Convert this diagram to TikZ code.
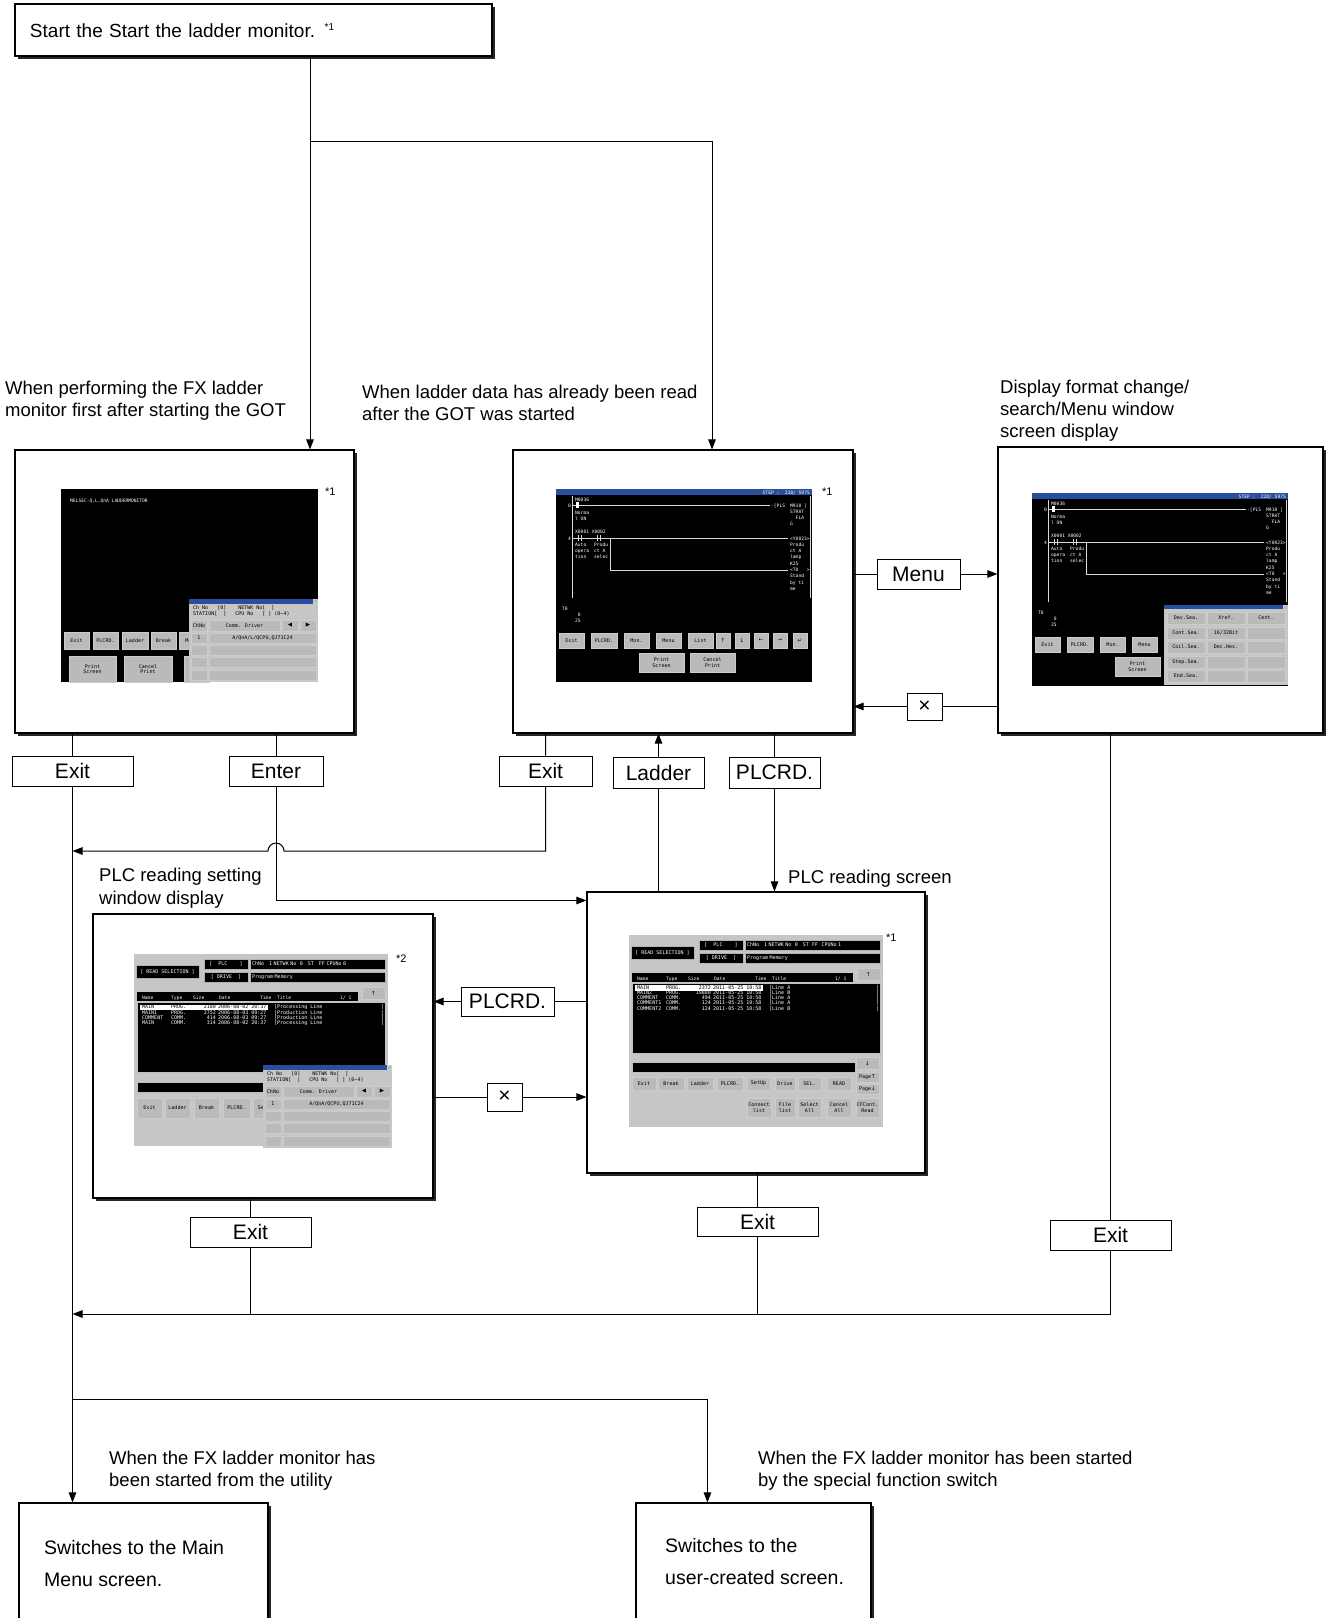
\documentclass[tikz,border=0pt]{standalone}
\usepackage{fontspec}
\setmainfont{Liberation Sans}
\newfontfamily\scrfont{DejaVu Sans Mono}
\newfontfamily\dvsfont{DejaVu Sans}
\usetikzlibrary{arrows.meta, positioning, shadows}

\definecolor{barblue}{RGB}{42,78,158}
\definecolor{panelgray}{RGB}{198,198,198}
\definecolor{keygray}{RGB}{186,186,186}

\newcommand\keyglyph[1]{{\dvsfont\fontsize{5.5}{5.5}\selectfont #1}}

% one key of a GOT screen, given by its corners
\newcommand\keybtn[6]{%
  \node[btn, minimum width={(#4)-(#2)}, minimum height={(#5)-(#3)}]
    (#1) at ({((#2)+(#4))/2},{((#3)+(#5))/2}) {#6};}

% ladder monitor screen, local coordinates (multi-line texts sit on their last line)
\newcommand\ladderscreen[1]{%
  \fill[black] (0,0) rectangle (256,193);
  \fill[barblue] (0,0) rectangle (256,6);
  \node[stxt, anchor=base east] (#1-step) at (254,5) {STEP :\ \ 228/ 5975};
  \draw[rung] (16,7) -- (16,109) (254,7) -- (254,109)
    (16,16) -- (214,16) (16,49) -- (232,49) (54,49) |- (232,81);
  \fill[white] (20,13) rectangle (23,19);
  \draw[rung] (22,46) -- (22,52) (25,46) -- (25,52) (41,46) -- (41,52) (44,46) -- (44,52);
  \node[stxt] (#1-m36) at (19,12) {M0036};
  \node[stxt, anchor=base east] (#1-r0) at (15,18) {0};
  \node[stxt] (#1-norm) at (19,31.3) {Norma\\l ON};
  \node[stxt] (#1-pls) at (215,18) {-[PLS};
  \node[stxt] (#1-m910) at (234,36.9) {M910 ]\\STRAT\\\ \ FLA\\G};
  \node[stxt] (#1-x12) at (19,44) {X0001 X0002};
  \node[stxt, anchor=base east] (#1-r4) at (15,51) {4};
  \node[stxt] (#1-auto) at (19,69.6) {Auto\\opera\\tion};
  \node[stxt] (#1-prod) at (38,69.6) {Produ\\ct A\\selec};
  \node[stxt] (#1-coil) at (234,101.4) {<Y0023>\\Produ\\ct A\\lamp\\K25\\<T0\ \ \ >\\Stand\\by ti\\me};
  \node[stxt] (#1-t0) at (6,121) {T0};
  \node[stxt] (#1-t0v) at (19,133.3) {\ 0\\25};
  \foreach \xa/\xb/\lab [count=\i] in {3/28/Exit, 35/61/PLCRD., 68/93/Mon., 100/125/Menu,
      132/157/List, 160/174/{\keyglyph{↑}}, 179/193/{\keyglyph{↓}}, 198/212/{\keyglyph{←}},
      217/231/{\keyglyph{→}}, 237/251/{\keyglyph{↵}}} {
    \keybtn{#1-k\i}{\xa}{144}{\xb}{159}{\lab}
  }
  \keybtn{#1-prt}{83}{164}{128}{183}{Print\\Screen}
  \keybtn{#1-cnl}{134}{164}{179}{183}{Cancel\\Print}
}

% channel setting window, local coordinates
\newcommand\chdialog[2]{%
  \fill[panelgray] (0,0) rectangle (129,83);
  \fill[barblue] (0,0) rectangle (129,5);
  \keybtn{#1-x}{124}{0.5}{128.5}{4.5}{}
  \node[dtxt] (#1-ch) at (4,10.5) {Ch No\ \ \ [0]\ \ \ \ NETWK No[\ \ ]};
  \node[dtxt] (#1-st) at (4,16) {STATION[\ \ ]\ \ \ CPU No\ \ \ [\ ] (0\textasciitilde 4)};
  \keybtn{#1-h1}{2}{21}{18}{32}{ChNo}
  \keybtn{#1-h2}{20}{21}{91}{32}{Comm. Driver}
  \keybtn{#1-h3}{93}{21}{109}{32}{\keyglyph{◀}}
  \keybtn{#1-h4}{111}{21}{127}{32}{\keyglyph{▶}}
  \keybtn{#1-r1}{2}{34}{18}{44}{1}
  \keybtn{#1-d1}{20}{34}{127}{44}{#2}
  \foreach \ya [count=\i] in {46,58,71} {
    \keybtn{#1-e\i}{2}{\ya}{18}{\ya+10}{}
    \keybtn{#1-f\i}{20}{\ya}{127}{\ya+10}{}
  }
}

% upper part of the read selection screen, local coordinates
\newcommand\readsel[2]{%
  \fill[panelgray] (0,0) rectangle (254,192);
  \node[dark, minimum width=63pt, minimum height=13pt] (#1-rs) at (33.5,17.5) {[ READ SELECTION ]};
  \node[dark, minimum width=44pt, minimum height=10pt] (#1-plc) at (92,10) {[\ \ PLC\ \ \ \ ]};
  \node[dark, minimum width=44pt, minimum height=10pt] (#1-drv) at (92,23) {[\ DRIVE\ \ ]};
  \node[dark, minimum width=135pt, minimum height=10pt, text width=131pt, align=left] (#1-ch) at (183.5,10) {#2};
  \node[dark, minimum width=135pt, minimum height=10pt, text width=131pt, align=left] (#1-mem) at (183.5,23) {Program Memory};
  \fill[black] (3,38) rectangle (224,47);
  \foreach \xa/\lab [count=\i] in {8/Name, 37/Type, 59/Size, 85/Date, 126/Time, 143/Title, 206/{1/ 1}} {
    \node[stxt] (#1-hd\i) at (\xa,45) {\lab};
  }
  \keybtn{#1-up}{228}{33}{251}{45}{\keyglyph{↑}}
  \draw[fill=black, draw=white!75!black, line width=0.4pt] (3,48) rectangle (251,118);
}

\begin{document}
\begin{tikzpicture}[
    x=1pt, y=-1pt,
    box/.style={draw, line width=1.1pt, fill=white, inner sep=0pt,
      drop shadow={shadow xshift=2.6pt, shadow yshift=-2.6pt, fill=black!85, opacity=1}},
    keybox/.style={draw, line width=0.8pt, fill=white, inner sep=0pt, minimum height=30pt,
      font=\fontsize{21}{24}\selectfont},
    desc/.style={anchor=base west, align=left, inner sep=0pt, font=\fontsize{18.5}{22}\selectfont},
    note/.style={anchor=north west, inner sep=0pt, font=\fontsize{11}{11}\selectfont},
    flow/.style={line width=1pt, -{Triangle[length=10pt, width=7.5pt]}},
    link/.style={line width=1pt},
    rung/.style={draw=white!85!black, line width=0.35pt},
    stxt/.style={text=white, inner sep=0pt, anchor=base west, align=left,
      font=\scrfont\fontsize{4.6}{6.3}\selectfont},
    rowtxt/.style={stxt, font=\scrfont\fontsize{5}{5}\selectfont},
    dtxt/.style={stxt, text=black, font=\scrfont\fontsize{5}{5}\selectfont},
    btn/.style={fill=keygray, draw=white!80!black, line width=0.3pt, inner sep=0pt, align=center,
      font=\scrfont\fontsize{5}{5.4}\selectfont},
    dark/.style={btn, fill=black, draw=white!70!black, text=white},
  ]
  \useasboundingbox (0,0) rectangle (1329,1618);

  % main boxes
  \node[box, minimum width=477pt, minimum height=52pt, text width=447pt, align=left,
    text height=15.6pt, text depth=0pt, font=\fontsize{19}{22}\selectfont] (start) at (253.5,30)
    {Start the Start the ladder monitor. \raisebox{7pt}{\fontsize{10}{10}\selectfont *1}};
  \node[box, minimum width=339pt, minimum height=283pt] (firstmon) at (184.5,591.5) {};
  \node[box, minimum width=340pt, minimum height=283pt] (readmon) at (683,591.5) {};
  \node[box, minimum width=325pt, minimum height=286pt] (menuwin) at (1160.5,590) {};
  \node[box, minimum width=340pt, minimum height=284pt] (plcset) at (263,1056) {};
  \node[box, minimum width=338pt, minimum height=281pt] (plcread) at (756,1032.5) {};
  \node[box, minimum width=249pt, minimum height=160pt] (mainmenu) at (143.5,1583) {};
  \node[box, minimum width=235pt, minimum height=160pt] (userscr) at (753.5,1583) {};

  % screen of the first start
  \begin{scope}[shift={(61,489)}]
    \fill[black] (0,0) rectangle (257,193);
    \node[stxt] (fm-title) at (9,13) {MELSEC-Q,L,QnA LADDERMONITOR};
    \foreach \xa/\xb/\lab [count=\i] in {3/28/Exit, 32/57/PLCRD., 61/87/Ladder, 90/115/Break, 118/143/Mon.} {
      \keybtn{fm-k\i}{\xa}{143}{\xb}{160}{\lab}
    }
    \keybtn{fm-prt}{8}{167}{55}{193}{Print\\Screen}
    \keybtn{fm-cnl}{63}{167}{111}{193}{Cancel\\Print}
    \keybtn{fm-etc}{123}{167}{148}{193}{...}
  \end{scope}
  \begin{scope}[shift={(189,599)}]
    \chdialog{fm}{A/QnA/L/QCPU,QJ71C24}
  \end{scope}
  \node[note] (fm-note) at (325,488) {*1};

  % ladder screens
  \begin{scope}[shift={(556,489)}]
    \ladderscreen{rm}
  \end{scope}
  \node[note] (rm-note) at (822,488) {*1};
  \begin{scope}[shift={(1032,493)}]
    \ladderscreen{mw}
    \fill[panelgray] (132,112) rectangle (256,192);
    \fill[barblue] (132,112) rectangle (256,116);
    \keybtn{mw-x}{251.5}{112.3}{255.5}{115.7}{}
    \foreach \ya/\la/\lb/\lc [count=\r] in {119/Dev.Sea./Xref./Cent., 134/Cont.Sea./{16/32Bit}/{},
        148/Coil.Sea./Dec.Hex./{}, 163/Step.Sea./{}/{}, 177/End.Sea./{}/{}} {
      \keybtn{mw-a\r}{135}{\ya}{173}{\ya+12}{\la}
      \keybtn{mw-b\r}{175}{\ya}{213}{\ya+12}{\lb}
      \keybtn{mw-c\r}{215}{\ya}{253}{\ya+12}{\lc}
    }
  \end{scope}

  % PLC reading setting window
  \begin{scope}[shift={(134,954)}]
    \readsel{ps}{ChNo\ \ \ 1 NETWK No\ \ 0\ \ \ ST\ \ \ FF CPUNo 0}
    \foreach \nm/\ty/\sz/\dt/\tl [count=\r] in {MAIN/PROG./2180/2006-08-02 20:37/Processing Line,
        MAIN1/PROG./2752/2006-08-03 09:27/Production Line, COMMENT/COMM./414/2006-08-03 09:27/Production Line,
        MAIN/COMM./314/2006-08-02 20:37/Processing Line} {
      \pgfmathsetmacro\yy{49.5+5.3*\r}
      \ifnum\r=1 \fill[white] (6,\yy-4.3) rectangle (134,\yy+0.9); \def\rc{black}\else\def\rc{white}\fi
      \node[rowtxt, text=\rc] (ps-n\r) at (8,\yy) {\nm};
      \node[rowtxt, text=\rc] (ps-t\r) at (37,\yy) {\ty};
      \node[rowtxt, text=\rc, anchor=base east] (ps-s\r) at (82,\yy) {\sz};
      \node[rowtxt, text=\rc] (ps-d\r) at (84,\yy) {\dt};
      \node[rowtxt] (ps-l\r) at (140,\yy) {[\tl};
      \node[rowtxt] (ps-b\r) at (247,\yy) {]};
    }
    \draw[fill=black, draw=white!75!black, line width=0.4pt] (3,128) rectangle (129,138);
    \foreach \xa/\xb/\lab [count=\i] in {3/28/Exit, 31/56/Ladder, 60/85/Break, 89/116/PLCRD., 119/144/SetUp} {
      \keybtn{ps-k\i}{\xa}{144}{\xb}{164}{\lab}
    }
  \end{scope}
  \begin{scope}[shift={(263,1065)}]
    \chdialog{ps}{A/QnA/QCPU,QJ71C24}
  \end{scope}
  \node[note] (ps-note) at (396,955) {*2};

  % PLC reading screen
  \begin{scope}[shift={(629,935)}]
    \readsel{pr}{ChNo\ \ \ 1 NETWK No\ \ 0\ \ \ ST\ \ FF\ \ CPUNo 1}
    \foreach \nm/\ty/\sz/\dt/\tl [count=\r] in {MAIN/PROG./2372/2011-05-25 10:58/Line A,
        MAIN2/PROG./19880/2011-05-25 10:58/Line B, COMMENT/COMM./494/2011-05-25 10:58/Line A,
        COMMENT1/COMM./124/2011-05-25 10:58/Line A, COMMENT2/COMM./124/2011-05-25 10:58/Line B} {
      \pgfmathsetmacro\yy{49.5+5.1*\r}
      \ifnum\r=1 \fill[white] (6,\yy-4.3) rectangle (134,\yy+0.9); \def\rc{black}\else\def\rc{white}\fi
      \node[rowtxt, text=\rc] (pr-n\r) at (8,\yy) {\nm};
      \node[rowtxt, text=\rc] (pr-t\r) at (37,\yy) {\ty};
      \node[rowtxt, text=\rc, anchor=base east] (pr-s\r) at (82,\yy) {\sz};
      \node[rowtxt, text=\rc] (pr-d\r) at (84,\yy) {\dt};
      \node[rowtxt] (pr-l\r) at (140,\yy) {[\tl};
      \node[rowtxt] (pr-b\r) at (247,\yy) {]};
    }
    \draw[fill=black, draw=white!75!black, line width=0.4pt] (3,127) rectangle (226,137);
    \keybtn{pr-dn}{227}{122}{250}{134}{\keyglyph{↓}}
    \keybtn{pr-pu}{227}{137}{250}{147}{Page\keyglyph{↑}}
    \keybtn{pr-pd}{227}{149}{250}{159}{Page\keyglyph{↓}}
    \foreach \xa/\xb/\lab [count=\i] in {3/27/Exit, 29/55/Break, 58/84/Ladder, 88/114/PLCRD.,
        118/141/SetUp, 146/166/Drive, 169/192/SEL., 198/222/READ} {
      \keybtn{pr-k\i}{\xa}{142}{\xb}{155}{\lab}
    }
    \foreach \xa/\xb/\lab [count=\i] in {118/142/{Connect\\list}, 146/166/{File\\list},
        169/192/{Select\\All}, 198/222/{Cancel\\All}, 227/250/{CFCont.\\Read}} {
      \keybtn{pr-m\i}{\xa}{163}{\xb}{182}{\lab}
    }
  \end{scope}
  \node[note] (pr-note) at (886,934) {*1};

  % texts above and in the boxes (placed on their last line)
  \node[desc] (descA) at (5,416) {When performing the FX ladder\\monitor first after starting the GOT};
  \node[desc] (descB) at (362,420.5) {When ladder data has already been read\\after the GOT was started};
  \node[desc] (descC) at (1000,437.5) {Display format change/\\search/Menu window\\screen display};
  \node[desc, font=\fontsize{18.5}{23}\selectfont] (descD) at (99,904.5) {PLC reading setting\\window display};
  \node[desc] (descE) at (788,883.5) {PLC reading screen};
  \node[desc] (descF) at (109,1486.5) {When the FX ladder monitor has\\been started from the utility};
  \node[desc] (descG) at (758,1486.5) {When the FX ladder monitor has been started\\by the special function switch};
  \node[desc, font=\fontsize{19.5}{32}\selectfont] (mmtext) at (44,1586) {Switches to the Main\\Menu screen.};
  \node[desc, font=\fontsize{19.5}{32}\selectfont] (ustext) at (665,1584) {Switches to the\\user-created screen.};

  % key labels
  \node[keybox, minimum width=121pt] (exitA) at (72.5,771) {Exit};
  \node[keybox, minimum width=94pt] (enterK) at (276,771) {Enter};
  \node[keybox, minimum width=93pt] (exitB) at (545.5,771) {Exit};
  \node[keybox, minimum width=91pt, minimum height=31pt] (ladderK) at (658.5,772.5) {Ladder};
  \node[keybox, minimum width=91pt, minimum height=31pt] (plcrdK) at (774.5,772.5) {PLCRD.};
  \node[keybox, minimum width=83pt] (menuK) at (918.5,574) {Menu};
  \node[keybox, minimum width=35pt, minimum height=27pt] (closeK) at (924.5,706.5) {×};
  \node[keybox, minimum width=93pt, minimum height=29pt] (plcrdM) at (507.5,1001.5) {PLCRD.};
  \node[keybox, minimum width=35pt, minimum height=28pt] (closeM) at (504.5,1097) {×};
  \node[keybox, minimum width=121pt] (exitD) at (250.5,1232) {Exit};
  \node[keybox, minimum width=121pt, minimum height=29pt] (exitE) at (757.5,1221.5) {Exit};
  \node[keybox, minimum width=121pt] (exitF) at (1110.5,1235) {Exit};

  % connectors
  \coordinate (split) at (310,141);
  \coordinate (splitR) at (712,141);
  \draw[flow] (start.south -| split) -- (split |- firstmon.north);
  \draw[flow] (split) -| (splitR |- readmon.north);
  \draw[flow] (readmon.east |- menuK) -- (menuK) -- (menuK -| menuwin.west);
  \draw[flow] (menuwin.west |- closeK) -- (closeK) -- (closeK -| readmon.east);
  \draw[flow] (firstmon.south -| exitA) -- (exitA) -- (exitA |- mainmenu.north);
  \draw[flow] (firstmon.south -| enterK) -- (enterK) |- ([yshift=-9pt]plcread.north west);
  \coordinate (hop) at (enterK |- 0,851);
  \draw[flow] (readmon.south -| exitB) -- (exitB) |- ([xshift=8pt]hop)
    arc[start angle=0, end angle=-180, radius=8] -- (exitA |- hop);
  \draw[flow] (plcread.north -| ladderK) -- (ladderK) -- (ladderK |- readmon.south);
  \draw[flow] (readmon.south -| plcrdK) -- (plcrdK) -- (plcrdK |- plcread.north);
  \draw[flow] (plcread.west |- plcrdM) -- (plcrdM) -- (plcrdM -| plcset.east);
  \draw[flow] (plcset.east |- closeM) -- (closeM) -- (closeM -| plcread.west);
  \coordinate (busR) at (exitF |- 0,1314);
  \draw[link] (plcset.south -| exitD) -- (exitD) -- (exitD |- busR);
  \draw[link] (plcread.south -| exitE) -- (exitE) -- (exitE |- busR);
  \draw[flow] (menuwin.south -| exitF) -- (exitF) |- (exitA |- busR);
  \coordinate (utilsplit) at (exitA |- 0,1399);
  \draw[flow] (utilsplit) -| ([xshift=72pt]userscr.north west);
\end{tikzpicture}
\end{document}
